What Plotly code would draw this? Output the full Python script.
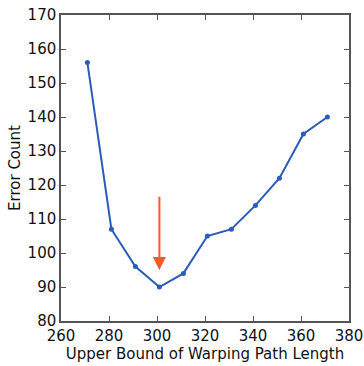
import plotly.graph_objects as go

bound = [271, 281, 291, 301, 311, 321, 331, 341, 351, 361, 371]
errors = [156, 107, 96, 90, 94, 105, 107, 114, 122, 135, 140]
arrow_x = 301
arrow_from = 117
arrow_to = 95

fig = go.Figure()
fig.add_trace(go.Scatter(x=bound, y=errors, mode="lines+markers",
                         line=dict(color="#2a5cb8", width=2),
                         marker=dict(color="#2a5cb8", size=5)))
fig.add_annotation(x=arrow_x, y=arrow_to, ax=arrow_x, ay=arrow_from,
                   xref="x", yref="y", axref="x", ayref="y",
                   showarrow=True, arrowhead=2, arrowsize=1.3, arrowwidth=2,
                   arrowcolor="#f4592a", text="")
axis_common = dict(showgrid=False, zeroline=False, showline=True, mirror="ticks",
                   linecolor="#555555", linewidth=1.5, ticks="inside", ticklen=5,
                   tickcolor="#555555", automargin=False,
                   tickfont=dict(family="DejaVu Sans", size=15, color="#111111"))
fig.update_xaxes(range=[260, 380], dtick=20, tick0=260,
                 title=dict(text="Upper Bound of Warping Path Length",
                            font=dict(family="DejaVu Sans", size=15, color="#111111"), standoff=4),
                 **axis_common)
fig.update_yaxes(range=[80, 170], dtick=10, tick0=80,
                 title=dict(text="Error Count",
                            font=dict(family="DejaVu Sans", size=15, color="#111111"), standoff=3),
                 **axis_common)
fig.update_layout(width=364, height=366, margin=dict(l=61, r=15, t=15, b=45),
                  plot_bgcolor="white", paper_bgcolor="white", showlegend=False)
fig.write_html("out.html")
